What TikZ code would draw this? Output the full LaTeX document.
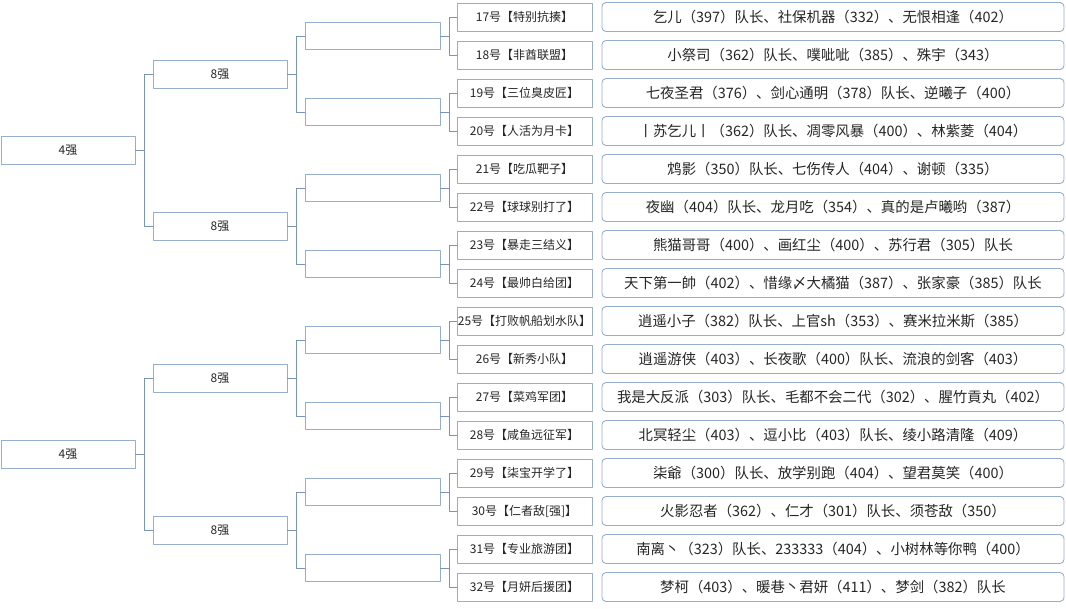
\documentclass[tikz,border=0pt]{standalone}
\usepackage{fontspec}
\setmainfont{Noto Sans CJK SC}
\definecolor{boxline}{RGB}{150,174,205}
\definecolor{linkline}{RGB}{120,148,186}
\definecolor{txt}{RGB}{38,38,38}
\begin{document}
\begin{tikzpicture}[x=1pt,y=-1pt,line join=round,
	rank/.style={draw=boxline,fill=white,line width=0.9pt,minimum width=134pt,minimum height=28pt,inner sep=0pt,text=txt,font=\fontsize{12}{14}\selectfont},
	teambox/.style={rank,minimum width=135pt},
	member/.style={draw=boxline,fill=white,line width=0.9pt,rounded corners=4pt,minimum width=462pt,minimum height=29pt,inner sep=0pt,text=txt,font=\fontsize{14.4}{16}\selectfont},
	link/.style={draw=linkline,line width=0.9pt}]
	\useasboundingbox (0,0) rectangle (1066,608);
	\foreach \i in {1,2} \node[rank] (q\i) at (68,{150+304*(\i-1)}) {4强};
	\foreach \i in {1,...,4} \node[rank] (e\i) at (220,{74+152*(\i-1)}) {8强};
	\foreach \i in {1,...,8} \node[rank,minimum width=135pt,minimum height=27pt] (s\i) at (372.5,{36+76*(\i-1)}) {};
	\foreach \i/\tm/\mb in {
		1/17号【特别抗揍】/乞儿（397）队长、社保机器（332）、无恨相逢（402）,
		2/18号【非酋联盟】/小祭司（362）队长、噗呲呲（385）、殊宇（343）,
		3/19号【三位臭皮匠】/七夜圣君（376）、剑心通明（378）队长、逆曦子（400）,
		4/20号【人活为月卡】/丨苏乞儿丨（362）队长、凋零风暴（400）、林紫菱（404）,
		5/21号【吃瓜靶子】/鸩影（350）队长、七伤传人（404）、谢顿（335）,
		6/22号【球球别打了】/夜幽（404）队长、龙月吃（354）、真的是卢曦哟（387）,
		7/23号【暴走三结义】/熊猫哥哥（400）、画红尘（400）、苏行君（305）队长,
		8/24号【最帅白给团】/天下第一帥（402）、惜缘〆大橘猫（387）、张家豪（385）队长,
		9/25号【打败帆船划水队】/逍遥小子（382）队长、上官sh（353）、赛米拉米斯（385）,
		10/26号【新秀小队】/逍遥游侠（403）、长夜歌（400）队长、流浪的剑客（403）,
		11/27号【菜鸡军团】/我是大反派（303）队长、毛都不会二代（302）、腥竹貢丸（402）,
		12/28号【咸鱼远征军】/北冥轻尘（403）、逗小比（403）队长、绫小路清隆（409）,
		13/29号【柒宝开学了】/柒爺（300）队长、放学别跑（404）、望君莫笑（400）,
		14/30号【仁者敌[强]】/火影忍者（362）、仁才（301）队长、须苍敌（350）,
		15/31号【专业旅游团】/南离丶（323）队长、233333（404）、小树林等你鸭（400）,
		16/32号【月妍后援团】/梦柯（403）、暖巷丶君妍（411）、梦剑（382）队长}
	{\node[teambox] (t\i) at (524.5,{17+38*(\i-1)}) {\tm};
		\node[member] (m\i) at (833,{17+38*(\i-1)}) {\mb};}
	\foreach \a/\b/\c in {q1/e1/e2,q2/e3/e4,e1/s1/s2,e2/s3/s4,e3/s5/s6,e4/s7/s8,
		s1/t1/t2,s2/t3/t4,s3/t5/t6,s4/t7/t8,s5/t9/t10,s6/t11/t12,s7/t13/t14,s8/t15/t16}
	{\draw[link] (\a.east) -- ++(9,0) |- (\b.west);
		\draw[link] (\a.east) -- ++(9,0) |- (\c.west);}
\end{tikzpicture}
\end{document}
